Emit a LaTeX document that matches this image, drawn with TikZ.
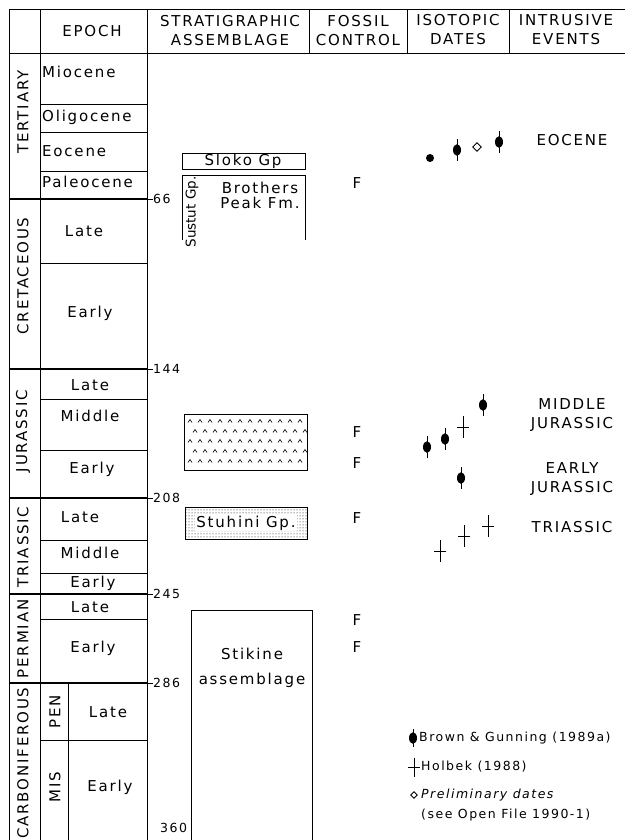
\documentclass[tikz,border=0pt]{standalone}
\usepackage{fontspec}
\setmainfont{DejaVu Sans}[LetterSpace=12]
\usetikzlibrary{shapes.geometric, patterns}

\begin{document}
\begin{tikzpicture}[x=1pt, y=-1pt,
    every node/.style={font=\fontsize{15}{19}\selectfont, inner sep=0pt},
    rule/.style={line width=0.9pt},
    bound/.style={line width=2.6pt},
    head/.style={align=center},
    period/.style={rotate=90},
    epoch/.style={},
    age/.style={anchor=west, font=\fontsize{12.5}{14}\selectfont},
    unitbox/.style={rule},
    fos/.style={},
    event/.style={align=center},
    legend/.style={anchor=west, font=\fontsize{12.5}{15}\selectfont},
    bgdate/.style={minimum width=9pt, minimum height=22pt,
        path picture={
            \draw[line width=0.8pt] (path picture bounding box.north) -- (path picture bounding box.south);
            \fill (path picture bounding box.center) ellipse [x radius=4pt, y radius=5.8pt];}},
    hbdate/.style={minimum width=12pt, minimum height=22pt,
        path picture={
            \draw[line width=0.9pt] (path picture bounding box.north) -- (path picture bounding box.south)
                (path picture bounding box.west) -- (path picture bounding box.east);}},
    prelim/.style={diamond, draw, line width=0.9pt, minimum size=9pt},
    filldot/.style={circle, fill, minimum size=8pt},
]
    \useasboundingbox (0,0) rectangle (625,840);

    % Column headings.
    \draw[rule] (9,9) -- (625,9) (9,53) -- (625,53);
    \foreach \x in {309,407,509}
        \draw[rule] (\x,9) -- (\x,53);
    \node[head] (hepoch) at (92,31) {EPOCH};
    \node[head] (hstrat) at (230,31) {STRATIGRAPHIC\\ASSEMBLAGE};
    \node[head] (hfossil) at (358,31) {FOSSIL\\CONTROL};
    \node[head] (hdates) at (458,30) {ISOTOPIC\\DATES};
    \node[head] (hevents) at (566,30) {INTRUSIVE\\EVENTS};

    % Period and epoch grid.
    \draw[rule] (9,9) -- (9,840) (40,9) -- (40,840) (147,9) -- (147,840)
        (68,683) -- (68,840);
    \foreach \y in {104,132,171,263,399,450,540,573,619,740}
        \draw[rule] (40,\y) -- (147,\y);

    % Period boundaries, ages in Ma.
    \foreach \y/\ma in {199/66,369/144,498/208,594/245,683/286} {
        \draw[bound] (9,\y) -- (147,\y);
        \draw[rule] (147,\y) -- (153,\y);
        \node[age] (ma\ma) at (153,\y) {\ma};
    }
    \node[age] (ma360) at (160,828) {360};

    % Periods.
    \foreach \name/\y in {TERTIARY/112,CRETACEOUS/276,JURASSIC/431,
                          TRIASSIC/547,PERMIAN/639,CARBONIFEROUS/763}
        \node[period] (p\name) at (23,\y) {\name};
    \node[period] (pen) at (55,712) {PEN};
    \node[period] (mis) at (55,787) {MIS};

    % Epochs.
    \node[epoch, anchor=west] (miocene) at (42,72) {Miocene};
    \node[epoch, anchor=west] (oligocene) at (42,117) {Oligocene};
    \node[epoch, anchor=west] (eocene) at (42,151) {Eocene};
    \node[epoch, anchor=west] (paleocene) at (42,182) {Paleocene};
    \node[epoch] (klate) at (84,231) {Late};
    \node[epoch] (kearly) at (90,313) {Early};
    \node[epoch] (jlate) at (90,385) {Late};
    \node[epoch] (jmiddle) at (90,416) {Middle};
    \node[epoch] (jearly) at (92,469) {Early};
    \node[epoch] (trlate) at (80,517) {Late};
    \node[epoch] (trmiddle) at (90,553) {Middle};
    \node[epoch] (trearly) at (93,583) {Early};
    \node[epoch] (plate) at (90,607) {Late};
    \node[epoch] (pearly) at (93,648) {Early};
    \node[epoch] (clate) at (108,712) {Late};
    \node[epoch] (cearly) at (110,787) {Early};

    % Stratigraphic units.
    \draw[unitbox] (182,153) rectangle (305,169);
    \node (sloko) at (243,161) {Sloko Gp};
    \draw[unitbox] (182,240) -- (182,175) -- (305,175) -- (305,240);
    \node[period, font=\fontsize{13.5}{15}\addfontfeature{LetterSpace=0}] (sustut) at (192,212) {Sustut Gp.};
    \node[align=center, font=\fontsize{15}{15}\selectfont] (brothers) at (260,195)
        {Brothers\\Peak Fm.};

    \draw[unitbox] (184,414) rectangle (307,470);
    \foreach \r in {0,...,4}
        \foreach \c in {0,...,11}
            \draw[line width=0.6pt] ({190+10*\c+5*mod(\r,2)-2},{421+10*\r+1.5})
                -- ++(2,-3) -- ++(2,3);

    \fill[pattern=dots] (185,507) rectangle (307,539);
    \draw[unitbox] (185,507) rectangle (307,539);
    \node[fill=white, inner sep=1pt] (stuhini) at (246,523) {Stuhini Gp.};

    \draw[unitbox] (191,840) -- (191,610) -- (312,610) -- (312,840);
    \node[align=center, font=\fontsize{15}{25}\selectfont] (stikine) at (252,668)
        {Stikine\\assemblage};

    % Fossil control.
    \foreach \y [count=\i] in {183,432,463,518,620,647}
        \node[fos] (f\i) at (357,\y) {F};

    % Isotopic dates.
    \node[filldot] (d1) at (430,158) {};
    \node[bgdate] (d2) at (457,150) {};
    \node[prelim] (d3) at (477,147) {};
    \node[bgdate] (d4) at (499,142) {};

    \node[bgdate] (d5) at (483,405) {};
    \node[hbdate] (d6) at (463,427) {};
    \node[bgdate] (d7) at (445,439) {};
    \node[bgdate] (d8) at (427,447) {};
    \node[bgdate] (d9) at (461,478) {};

    \node[hbdate] (d10) at (488,526) {};
    \node[hbdate] (d11) at (464,536) {};
    \node[hbdate] (d12) at (440,551) {};

    % Intrusive events.
    \node[event] (eeocene) at (572,140) {EOCENE};
    \node[event] (emidjur) at (572,415) {MIDDLE\\JURASSIC};
    \node[event] (eearlyjur) at (572,479) {EARLY\\JURASSIC};
    \node[event] (etrias) at (572,527) {TRIASSIC};

    % Legend.
    \node[bgdate, minimum height=18pt] (kbg) at (413,738) {};
    \node[legend] (lbg) at (419,738) {Brown \& Gunning (1989a)};
    \node[hbdate, minimum height=19pt] (khb) at (414,767) {};
    \node[legend] (lhb) at (421,767) {Holbek (1988)};
    \node[prelim, minimum size=7pt] (kpre) at (414,795) {};
    \node[legend, align=left, font=\fontsize{12.5}{20}\selectfont] (lpre) at (421,805)
        {\itshape Preliminary dates\\(see Open File 1990-1)};
\end{tikzpicture}
\end{document}
